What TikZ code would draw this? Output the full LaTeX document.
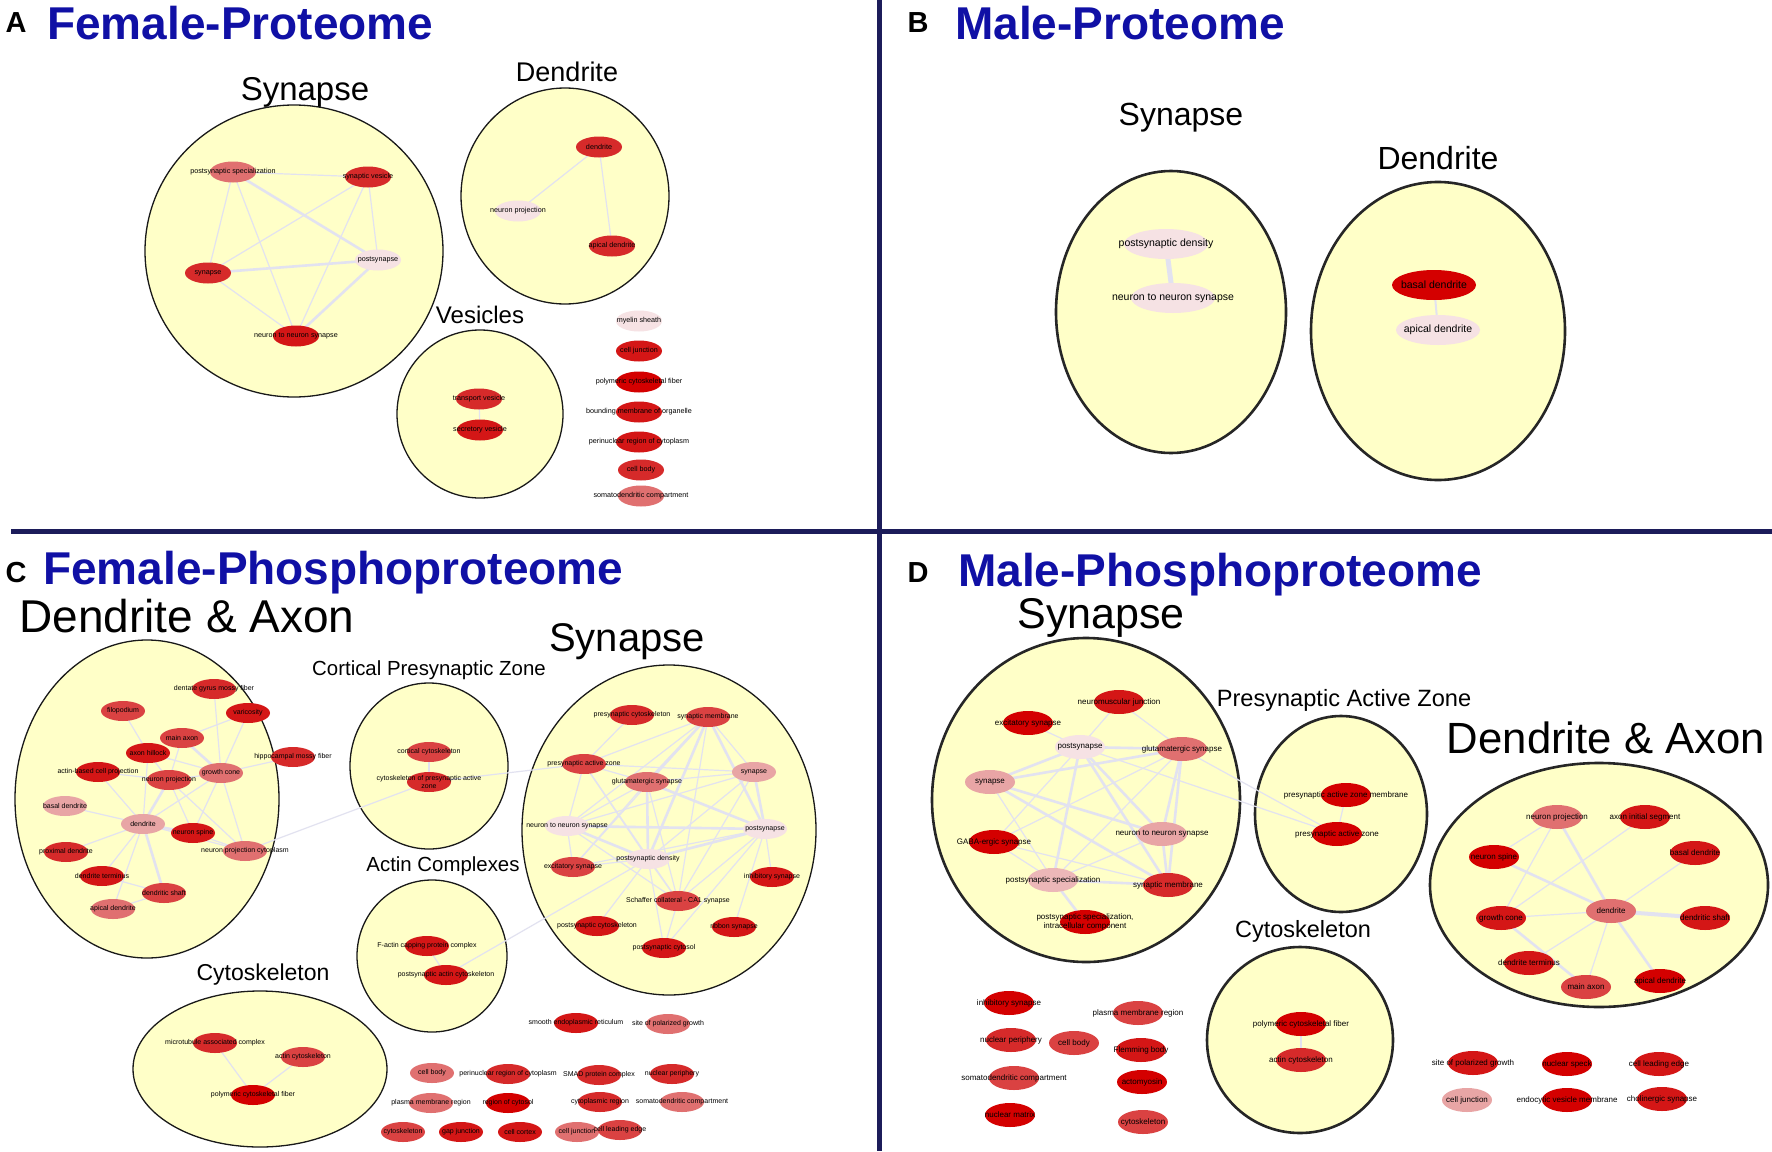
\documentclass[tikz,border=0pt]{standalone}
\usepackage{fontspec}
\setmainfont{Liberation Sans}
\usetikzlibrary{shapes.geometric}
\pgfdeclarelayer{bg}
\pgfdeclarelayer{edges}
\pgfsetlayers{bg,edges,main}
\definecolor{ttl}{RGB}{16,16,165}
\definecolor{divc}{RGB}{28,28,90}
\definecolor{circ}{RGB}{255,255,200}
\definecolor{edgec}{RGB}{226,226,240}
\definecolor{r1}{RGB}{212,0,0}
\definecolor{r2}{RGB}{212,22,22}
\definecolor{r3}{RGB}{214,42,42}
\definecolor{r4}{RGB}{218,66,66}
\definecolor{r5}{RGB}{224,112,112}
\definecolor{r6}{RGB}{232,165,165}
\definecolor{r7}{RGB}{246,226,228}
\tikzset{
  gnode/.style={ellipse, draw=none, inner sep=0pt, minimum width=46pt, minimum height=21pt},
  gtext/.style={inner sep=0pt, align=center, font=\fontsize{7.2}{8}\selectfont, text=black},
  clus/.style={ellipse, draw=black!90, line width=1.3pt, fill=circ, inner sep=0pt},
  clusb/.style={clus, line width=2.6pt, draw=black!85},
  ed/.style={draw=edgec, line width=1.2pt},
  edt/.style={draw=edgec, line width=2.6pt},
  ptitle/.style={font=\fontsize{46}{50}\selectfont\bfseries, text=ttl, inner sep=0pt, anchor=west},
  plet/.style={font=\fontsize{29}{32}\selectfont\bfseries, inner sep=0pt},
  ctitle/.style={inner sep=0pt},
  divl/.style={draw=divc, line width=5pt},
}
\newcommand{\gnd}[5]{\node[gnode,fill=#4] (#1) at (#2,#3) {}; \node[gtext] (#1-t) at (#2,#3) {#5};}
\newcommand{\edg}[2]{\draw[ed] (#1.center) -- (#2.center);}
\newcommand{\edgt}[2]{\draw[edt] (#1.center) -- (#2.center);}
\begin{document}
\begin{tikzpicture}[x=1pt,y=-1pt]
\begin{pgfonlayer}{bg}
\fill[white] (0,0) rectangle (1772,1151);
\useasboundingbox (0,0) rectangle (1772,1151);
% dividers
\coordinate (vt) at (879,0); \coordinate (vb) at (879,1151);
\coordinate (hl) at (11,531); \coordinate (hr) at (1772,531);
\draw[divl] (vt) -- (vb);
\draw[divl] (hl) -- (hr);
% clusters
\node[clus, minimum width=298pt, minimum height=292pt] (a-syn) at (294,251) {};
\node[clus, minimum width=208pt, minimum height=216pt] (a-den) at (565,196) {};
\node[clus, minimum width=166pt, minimum height=168pt] (a-ves) at (480,414) {};
\node[clusb, minimum width=230pt, minimum height=282pt] (b-syn) at (1171,312) {};
\node[clusb, minimum width=254pt, minimum height=298pt] (b-den) at (1438,331) {};
\node[clus, minimum width=264pt, minimum height=318pt] (c-da) at (147,799) {};
\node[clus, minimum width=158pt, minimum height=166pt] (c-cpz) at (429,766) {};
\node[clus, minimum width=150pt, minimum height=152pt] (c-ac) at (432,956) {};
\node[clus, minimum width=294pt, minimum height=330pt] (c-syn) at (669,830) {};
\node[clus, minimum width=254pt, minimum height=156pt] (c-cyto) at (260,1069) {};
\node[clusb, minimum width=308pt, minimum height=324pt] (d-syn) at (1086,800) {};
\node[clusb, minimum width=172pt, minimum height=196pt] (d-paz) at (1341,814) {};
\node[clusb, minimum width=186pt, minimum height=186pt] (d-cyto) at (1300,1040) {};
\node[clusb, minimum width=338pt, minimum height=244pt] (d-da) at (1599,885) {};
\end{pgfonlayer}

% ---------- titles ----------
\node[plet] (A-l) at (16,23) {A};
\node[ptitle] (A-t) at (47,23) {Female-Proteome};
\node[plet] (B-l) at (918,23) {B};
\node[ptitle] (B-t) at (955,23) {Male-Proteome};
\node[plet] (C-l) at (16,573) {C};
\node[ptitle] (C-t) at (43,573) {Female-Phosphoproteome};
\node[plet] (D-l) at (918,573) {D};
\node[ptitle] (D-t) at (958,575) {Male-Phosphoproteome};

\node[ctitle, font=\fontsize{33}{36}\selectfont] (a-syn-tt) at (305,92) {Synapse};
\node[ctitle, font=\fontsize{27}{30}\selectfont] (a-den-tt) at (567,72) {Dendrite};
\node[ctitle, font=\fontsize{24}{27}\selectfont] (a-ves-tt) at (480,315) {Vesicles};
\node[ctitle, font=\fontsize{32}{35}\selectfont] (b-syn-tt) at (1181,118) {Synapse};
\node[ctitle, font=\fontsize{32}{35}\selectfont] (b-den-tt) at (1438,158) {Dendrite};
\node[ctitle, font=\fontsize{46}{50}\selectfont] (c-da-tt) at (187,616) {Dendrite \& Axon};
\node[ctitle, font=\fontsize{20.4}{23}\selectfont] (c-cpz-tt) at (429,670) {Cortical Presynaptic Zone};
\node[ctitle, font=\fontsize{20.4}{23}\selectfont] (c-ac-tt) at (443,866) {Actin Complexes};
\node[ctitle, font=\fontsize{40}{44}\selectfont] (c-syn-tt) at (627,642) {Synapse};
\node[ctitle, font=\fontsize{23}{26}\selectfont] (c-cyto-tt) at (263,975) {Cytoskeleton};
\node[ctitle, font=\fontsize{43}{47}\selectfont] (d-syn-tt) at (1101,618) {Synapse};
\node[ctitle, font=\fontsize{23.6}{26}\selectfont] (d-paz-tt) at (1344,700) {Presynaptic Active Zone};
\node[ctitle, font=\fontsize{23.5}{26}\selectfont] (d-cyto-tt) at (1303,931) {Cytoskeleton};
\node[ctitle, font=\fontsize{43.7}{48}\selectfont] (d-da-tt) at (1606,738) {Dendrite \& Axon};

% ---------- Panel A ----------
\gnd{a-pss}{233}{172}{r5}{postsynaptic specialization}
\gnd{a-sv}{368}{177}{r3}{synaptic vesicle}
\gnd{a-ps}{378}{260}{r7}{postsynapse}
\gnd{a-sy}{208}{273}{r3}{synapse}
\gnd{a-nn}{296}{336}{r2}{neuron to neuron synapse}
\gnd{a-dd}{599}{147}{r3}{dendrite}
\gnd{a-np}{518}{211}{r7}{neuron projection}
\gnd{a-ad}{612}{246}{r3}{apical dendrite}
\gnd{a-tv}{479}{399}{r3}{transport vesicle}
\gnd{a-sec}{480}{430}{r2}{secretory vesicle}
\gnd{a-ms}{639}{321}{r7}{myelin sheath}
\gnd{a-cj}{639}{351}{r2}{cell junction}
\gnd{a-pcf}{639}{382}{r1}{polymeric cytoskeletal fiber}
\gnd{a-bmo}{639}{412}{r2}{bounding membrane of organelle}
\gnd{a-prc}{639}{442}{r2}{perinuclear region of cytoplasm}
\gnd{a-cb}{641}{470}{r3}{cell body}
\gnd{a-sdc}{641}{496}{r5}{somatodendritic compartment}

% ---------- Panel B ----------
\begin{scope}[gnode/.append style={minimum width=84pt, minimum height=30pt}, gtext/.append style={font=\fontsize{10.5}{12}\selectfont}]
\gnd{b-psd}{1166}{244}{r7}{postsynaptic density}
\gnd{b-nn}{1173}{298}{r7}{neuron to neuron synapse}
\gnd{b-bd}{1434}{285}{r1}{basal dendrite}
\gnd{b-ad}{1438}{330}{r7}{apical dendrite}
\end{scope}

% ---------- Panel C ----------
\begin{scope}[gnode/.append style={minimum width=44pt, minimum height=20pt}, gtext/.append style={font=\fontsize{7}{8}\selectfont}]
\gnd{c-dg}{214}{689}{r3}{dentate gyrus mossy fiber}
\gnd{c-fil}{123}{711}{r4}{filopodium}
\gnd{c-var}{248}{713}{r2}{varicosity}
\gnd{c-max}{182}{738}{r4}{main axon}
\gnd{c-ah}{148}{753}{r2}{axon hillock}
\gnd{c-hmf}{293}{757}{r3}{hippocampal mossy fiber}
\gnd{c-abcp}{98}{772}{r2}{actin-based cell projection}
\gnd{c-np}{169}{780}{r4}{neuron projection}
\gnd{c-gc}{221}{773}{r5}{growth cone}
\gnd{c-bd}{65}{806}{r6}{basal dendrite}
\gnd{c-den}{143}{824}{r6}{dendrite}
\gnd{c-ns}{193}{833}{r2}{neuron spine}
\gnd{c-npc}{245}{851}{r5}{neuron projection cytoplasm}
\gnd{c-pd}{66}{852}{r3}{proximal dendrite}
\gnd{c-dt}{102}{876}{r2}{dendrite terminus}
\gnd{c-ds}{164}{893}{r4}{dendritic shaft}
\gnd{c-ad}{113}{909}{r5}{apical dendrite}
\gnd{cc-cc}{429}{752}{r4}{cortical cytoskeleton}
\gnd{cc-cpaz}{429}{782}{r3}{cytoskeleton of presynaptic active\\zone}
\gnd{ca-fac}{427}{946}{r2}{F-actin capping protein complex}
\gnd{ca-pac}{446}{975}{r2}{postsynaptic actin cytoskeleton}
\gnd{cs-pc}{632}{715}{r3}{presynaptic cytoskeleton}
\gnd{cs-sm}{708}{717}{r4}{synaptic membrane}
\gnd{cs-paz}{584}{764}{r4}{presynaptic active zone}
\gnd{cs-syn}{754}{772}{r6}{synapse}
\gnd{cs-glu}{647}{782}{r5}{glutamatergic synapse}
\gnd{cs-nn}{567}{826}{r7}{neuron to neuron synapse}
\gnd{cs-ps}{765}{829}{r7}{postsynapse}
\gnd{cs-psd}{648}{859}{r7}{postsynaptic density}
\gnd{cs-exc}{573}{867}{r4}{excitatory synapse}
\gnd{cs-inh}{772}{877}{r2}{inhibitory synapse}
\gnd{cs-sch}{678}{901}{r4}{Schaffer collateral - CA1 synapse}
\gnd{cs-pcs}{597}{926}{r2}{postsynaptic cytoskeleton}
\gnd{cs-rib}{734}{927}{r2}{ribbon synapse}
\gnd{cs-cyt}{664}{948}{r2}{postsynaptic cytosol}
\gnd{cy-mac}{215}{1043}{r3}{microtubule associated complex}
\gnd{cy-act}{303}{1057}{r4}{actin cytoskeleton}
\gnd{cy-pcf}{253}{1095}{r1}{polymeric cytoskeletal fiber}
\gnd{cl-ser}{576}{1023}{r2}{smooth endoplasmic reticulum}
\gnd{cl-spg}{668}{1024}{r5}{site of polarized growth}
\gnd{cl-cb}{432}{1073}{r5}{cell body}
\gnd{cl-prc}{508}{1074}{r3}{perinuclear region of cytoplasm}
\gnd{cl-smad}{599}{1075}{r3}{SMAD protein complex}
\gnd{cl-np}{672}{1074}{r3}{nuclear periphery}
\gnd{cl-pmr}{431}{1103}{r5}{plasma membrane region}
\gnd{cl-roc}{508}{1103}{r1}{region of cytosol}
\gnd{cl-cr}{600}{1102}{r3}{cytoplasmic region}
\gnd{cl-sdc}{682}{1102}{r5}{somatodendritic compartment}
\gnd{cl-cyt}{403}{1132}{r4}{cytoskeleton}
\gnd{cl-gj}{461}{1132}{r2}{gap junction}
\gnd{cl-cc}{520}{1132}{r2}{cell cortex}
\gnd{cl-cj}{577}{1132}{r5}{cell junction}
\gnd{cl-cle}{620}{1130}{r4}{cell leading edge}
\end{scope}

% ---------- Panel D ----------
\begin{scope}[gnode/.append style={minimum width=50pt, minimum height=24pt}, gtext/.append style={font=\fontsize{8}{9}\selectfont}]
\gnd{ds-nmj}{1119}{702}{r2}{neuromuscular junction}
\gnd{ds-exc}{1028}{723}{r1}{excitatory synapse}
\gnd{ds-ps}{1080}{747}{r7}{postsynapse}
\gnd{ds-glu}{1182}{749}{r5}{glutamatergic synapse}
\gnd{ds-syn}{990}{782}{r6}{synapse}
\gnd{ds-gaba}{994}{842}{r1}{GABA-ergic synapse}
\gnd{ds-nn}{1162}{834}{r6}{neuron to neuron synapse}
\gnd{ds-pss}{1053}{880}{r6!70!r7}{postsynaptic specialization}
\gnd{ds-sm}{1168}{885}{r3}{synaptic membrane}
\gnd{ds-ic}{1085}{922}{r1}{postsynaptic specialization,\\intracellular component}
\gnd{dp-pazm}{1346}{795}{r1}{presynaptic active zone membrane}
\gnd{dp-paz}{1337}{834}{r1}{presynaptic active zone}
\gnd{dc-pcf}{1301}{1024}{r1}{polymeric cytoskeletal fiber}
\gnd{dc-act}{1301}{1060}{r3}{actin cytoskeleton}
\gnd{dd-np}{1557}{817}{r5}{neuron projection}
\gnd{dd-ais}{1645}{817}{r2}{axon initial segment}
\gnd{dd-ns}{1494}{857}{r1}{neuron spine}
\gnd{dd-bd}{1695}{853}{r2}{basal dendrite}
\gnd{dd-den}{1611}{911}{r5}{dendrite}
\gnd{dd-gc}{1501}{918}{r2}{growth cone}
\gnd{dd-ds}{1705}{918}{r2}{dendritic shaft}
\gnd{dd-dt}{1529}{963}{r2}{dendrite terminus}
\gnd{dd-ad}{1660}{981}{r1}{apical dendrite}
\gnd{dd-ma}{1586}{987}{r4}{main axon}
\gnd{dl-inh}{1009}{1003}{r1}{inhibitory synapse}
\gnd{dl-pmr}{1138}{1013}{r4}{plasma membrane region}
\gnd{dl-np}{1011}{1040}{r3}{nuclear periphery}
\gnd{dl-cb}{1074}{1043}{r4}{cell body}
\gnd{dl-fb}{1141}{1050}{r2}{Flemming body}
\gnd{dl-sdc}{1014}{1078}{r4}{somatodendritic compartment}
\gnd{dl-am}{1142}{1082}{r1}{actomyosin}
\gnd{dl-nm}{1010}{1115}{r1}{nuclear matrix}
\gnd{dl-cyt}{1143}{1122}{r4}{cytoskeleton}
\gnd{dl-spg}{1473}{1063}{r2}{site of polarized growth}
\gnd{dl-nsp}{1567}{1064}{r1}{nuclear speck}
\gnd{dl-cle}{1659}{1064}{r2}{cell leading edge}
\gnd{dl-cj}{1467}{1100}{r6}{cell junction}
\gnd{dl-evm}{1567}{1100}{r1}{endocytic vesicle membrane}
\gnd{dl-chs}{1662}{1099}{r2}{cholinergic synapse}
\end{scope}

% ---------- edges ----------
\begin{pgfonlayer}{edges}
% A
\edg{a-pss}{a-sv}\edg{a-pss}{a-sy}\edg{a-pss}{a-nn}\edgt{a-pss}{a-ps}
\edg{a-sv}{a-sy}\edg{a-sv}{a-nn}\edg{a-sv}{a-ps}
\edgt{a-sy}{a-ps}\edg{a-sy}{a-nn}\edgt{a-ps}{a-nn}
\edg{a-dd}{a-np}\edg{a-dd}{a-ad}
\edg{a-tv}{a-sec}
% B
\draw[draw=edgec, line width=5pt] (b-psd.center) -- (b-nn.center);
\draw[draw=edgec, line width=2pt] (b-bd.center) -- (b-ad.center);
% C dendrite & axon
\edg{c-fil}{c-ah}\edg{c-dg}{c-gc}\edg{c-var}{c-gc}\edg{c-var}{c-max}
\edgt{c-max}{c-gc}\edg{c-max}{c-np}\edg{c-ah}{c-gc}\edg{c-ah}{c-np}\edg{c-ah}{c-den}
\edg{c-abcp}{c-np}\edg{c-abcp}{c-den}\edg{c-gc}{c-hmf}\edg{c-gc}{c-np}\edg{c-gc}{c-den}
\edg{c-gc}{c-ns}\edg{c-gc}{c-npc}\edgt{c-np}{c-den}\edg{c-np}{c-ns}\edg{c-np}{c-npc}
\edg{c-bd}{c-den}\edgt{c-den}{c-ns}\edg{c-den}{c-npc}\edg{c-den}{c-pd}\edg{c-den}{c-dt}
\edgt{c-den}{c-ds}\edg{c-den}{c-ad}\edg{c-dt}{c-ds}\edg{c-ds}{c-ad}\edg{c-ns}{c-npc}
\edg{c-npc}{cc-cpaz}
\edg{cc-cc}{cc-cpaz}\edg{cc-cpaz}{cs-paz}
\edg{ca-fac}{ca-pac}\edg{ca-pac}{cs-psd}
% C synapse
\edg{cs-pc}{cs-paz}
\edg{cs-sm}{cs-paz}\edgt{cs-sm}{cs-glu}\edg{cs-sm}{cs-syn}\edgt{cs-sm}{cs-ps}\edg{cs-sm}{cs-nn}
\edgt{cs-sm}{cs-psd}\edg{cs-sm}{cs-sch}\edg{cs-sm}{cs-exc}
\edg{cs-paz}{cs-glu}\edg{cs-paz}{cs-syn}\edg{cs-paz}{cs-nn}\edg{cs-paz}{cs-psd}\edg{cs-paz}{cs-sch}
\edg{cs-glu}{cs-syn}\edgt{cs-glu}{cs-ps}\edg{cs-glu}{cs-nn}\edgt{cs-glu}{cs-psd}\edg{cs-glu}{cs-sch}\edg{cs-glu}{cs-exc}
\edg{cs-syn}{cs-nn}\edgt{cs-syn}{cs-ps}\edg{cs-syn}{cs-psd}\edg{cs-syn}{cs-sch}
\edgt{cs-nn}{cs-ps}\edgt{cs-nn}{cs-psd}\edg{cs-nn}{cs-exc}\edg{cs-nn}{cs-sch}
\edgt{cs-ps}{cs-psd}\edg{cs-ps}{cs-inh}\edg{cs-ps}{cs-rib}\edg{cs-ps}{cs-sch}\edg{cs-ps}{cs-exc}\edg{cs-ps}{cs-cyt}
\edg{cs-psd}{cs-exc}\edg{cs-psd}{cs-sch}\edg{cs-psd}{cs-pcs}\edg{cs-psd}{cs-cyt}\edg{cs-sch}{cs-cyt}
% C cytoskeleton
\edg{cy-mac}{cy-pcf}\edg{cy-act}{cy-pcf}
% D synapse
\edg{ds-exc}{ds-ps}\edg{ds-nmj}{ds-ps}\edg{ds-nmj}{ds-glu}
\edgt{ds-ps}{ds-glu}\edgt{ds-ps}{ds-syn}\edgt{ds-ps}{ds-pss}\edgt{ds-ps}{ds-nn}\edgt{ds-ps}{ds-sm}\edg{ds-ps}{ds-gaba}
\edgt{ds-syn}{ds-glu}\edgt{ds-syn}{ds-nn}\edgt{ds-syn}{ds-sm}\edg{ds-syn}{ds-pss}
\edg{ds-glu}{ds-pss}\edgt{ds-glu}{ds-nn}\edgt{ds-glu}{ds-sm}\edg{ds-glu}{ds-gaba}
\edg{ds-gaba}{ds-pss}\edg{ds-gaba}{ds-sm}\edgt{ds-pss}{ds-sm}\edg{ds-pss}{ds-nn}\edgt{ds-pss}{ds-ic}
\edgt{ds-nn}{ds-sm}
\edg{ds-glu}{dp-paz}\edg{ds-ps}{dp-paz}
\edg{dp-pazm}{dp-paz}
\edg{dc-pcf}{dc-act}
% D dendrite & axon
\edg{dd-np}{dd-ns}\edg{dd-np}{dd-gc}\edgt{dd-np}{dd-den}\edg{dd-ais}{dd-gc}
\edgt{dd-ns}{dd-den}\edg{dd-bd}{dd-den}\edg{dd-den}{dd-gc}\draw[draw=edgec, line width=4pt] (dd-den.center) -- (dd-ds.center);
\edg{dd-den}{dd-dt}\edg{dd-den}{dd-ma}\edgt{dd-den}{dd-ad}\edgt{dd-gc}{dd-ma}
\end{pgfonlayer}
\end{tikzpicture}
\end{document}
